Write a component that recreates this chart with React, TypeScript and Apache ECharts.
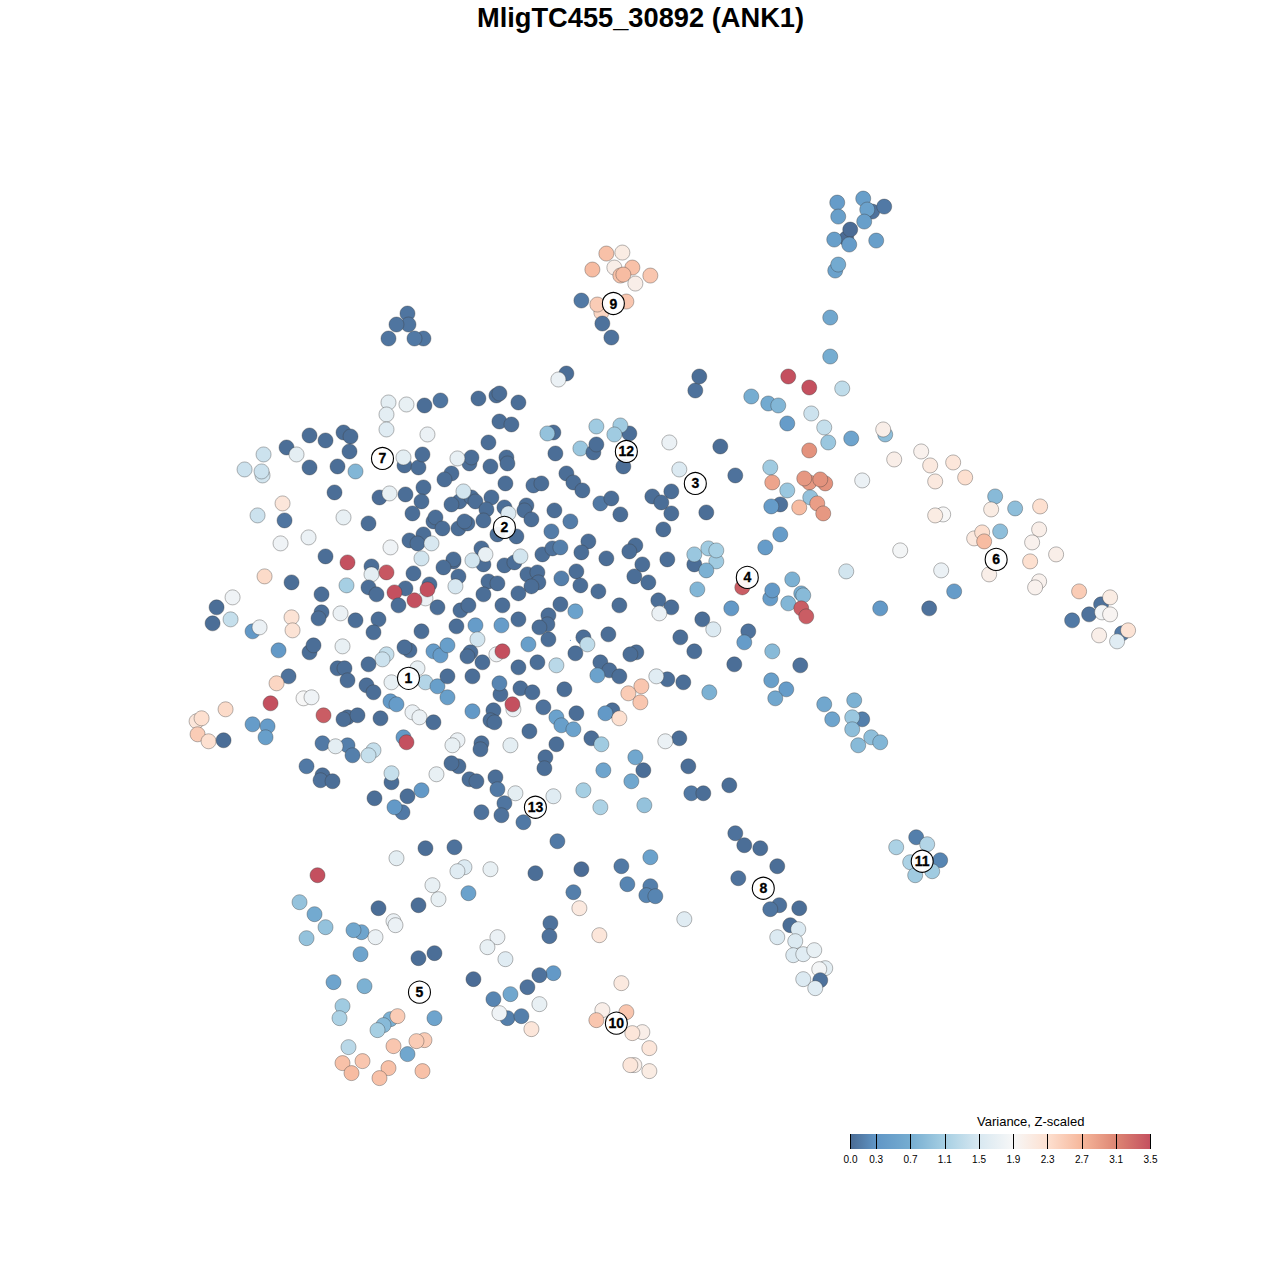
import React, { useEffect, useRef } from "react";
import * as echarts from "echarts";

type P = [number, number, number];

const TITLE = "MligTC455_30892 (ANK1)";
const LEGEND_TITLE = "Variance, Z-scaled";
const legendTicks = [0, 0.3, 0.7, 1.1, 1.5, 1.9, 2.3, 2.7, 3.1, 3.5];
const legendColors = ["#4a6b94", "#6096c6", "#76add1", "#a6cfe3", "#d8e8f1", "#f7f7f7", "#fde0d0", "#f6b79b", "#dd8573", "#c4505f"];

const north: P[] = [
  [388,402,1.65],[406,404,1.7],[424,405,.02],[440,400,.07],[386,414,1.65],[386,429,1.6],[427,434,1.75],[478,398,.02],[496,395,.02],[499,393,.02],[518,402,.02],[499,421,.02],[511,424,.02],[488,442,.02],[566,373,.02],[558,379,1.75],[695,390,.05],[699,376,.02],
];
const westUpper: P[] = [
  [309,435,.02],[325,440,.02],[343,432,.02],[350,436,.02],[286,447,.02],[263,454,1.4],[296,454,1.65],[349,451,.02],[404,465,.02],[418,467,.02],[422,454,.02],[403,457,1.65],[469,463,.02],[471,457,.02],[457,458,1.7],[451,473,.02],[444,479,.02],[244,469,1.4],[262,475,1.45],[261,471,1.4],[309,467,.02],[337,466,.02],[355,471,.8],[334,492,.02],[379,497,.01],[389,493,1.7],[405,494,.02],[423,487,.02],[421,501,.02],[412,513,.02],[282,503,2.2],[257,515,1.4],[284,520,.07],[343,517,1.7],[368,523,.02],[308,537,1.75],[280,543,1.8],[325,556,.02],[347,562,3.5],[264,576,2.35],[291,582,.02],[216,607,.02],[232,597,1.8],[212,623,.02],[230,619,1.35],[252,631,.35],[259,627,1.75],[291,617,2.25],[292,630,2.25],[278,650,.35],
];
const core: P[] = [
  [490,466,.02],[506,457,.02],[507,463,.02],[555,453,.02],[459,501,.02],[451,504,.02],[471,497,.02],[475,501,.02],[463,491,1.45],[491,497,.02],[486,509,.02],[504,507,.02],[508,513,1.55],[526,505,.02],[524,510,.02],[533,485,.05],[541,483,.02],[505,483,.02],[554,510,.02],[531,519,.02],[433,521,.02],[435,517,.02],[442,528,.02],[458,528,.02],[467,523,.02],[464,521,.02],[483,520,.02],[570,521,.12],[551,531,.12],[497,534,.02],[516,536,.02],[409,540,.02],[423,534,.02],[417,543,.02],[431,543,1.5],[421,558,1.45],[390,547,1.8],[483,564,.02],[481,548,.02],[485,554,1.7],[472,560,1.45],[453,561,.01],[453,559,.02],[443,567,.02],[504,565,.02],[514,562,.02],[520,556,1.45],[542,554,.02],[552,548,.05],[560,547,.14],[371,566,.02],[371,574,1.65],[386,572,3.45],[413,573,.02],[458,576,.02],[455,586,1.5],[488,581,.02],[497,583,.02],[527,574,.02],[537,572,.02],[538,582,.02],[531,586,.02],[561,578,.14],[483,594,.02],[518,593,.02],[368,587,.02],[376,594,.02],[405,588,.02],[429,584,.02],[425,598,1.75],[394,592,3.5],[427,589,3.5],[414,600,3.5],[346,585,1.1],[321,594,.02],[398,605,.02],[437,607,.02],[460,610,.02],[468,605,.02],[502,605,.02],[560,604,.02],[340,613,1.75],[321,612,.02],[318,618,.02],[355,620,.02],[378,619,.02],[373,632,.02],[421,631,.02],[456,626,.02],[475,625,.4],[501,625,.4],[518,619,.02],[548,615,.02],[547,624,.02],[539,627,.02],[477,639,1.45],[309,652,.02],[313,645,.02],[342,646,1.7],
];
const south: P[] = [
  [409,650,.02],[404,647,.02],[433,651,.4],[440,655,.4],[447,645,.45],[470,652,.02],[467,656,.02],[496,654,1.8],[502,651,3.5],[528,644,.45],[482,662,.02],[518,667,.02],[537,662,.02],[386,654,1.35],[382,659,1.4],[368,664,.02],[337,668,.02],[344,668,.02],[347,680,.02],[288,676,.05],[276,683,2.4],[366,685,.02],[373,692,.02],[391,682,1.7],[417,668,1.7],[425,682,1.2],[437,686,.45],[447,676,.02],[447,697,.45],[472,676,.02],[500,694,.02],[499,683,.18],[520,688,.02],[532,692,.02],[564,689,.02],[390,701,.35],[396,704,.4],[412,712,1.75],[419,717,1.75],[433,722,.02],[380,718,.02],[347,717,.02],[343,719,.02],[357,715,.02],[472,711,.35],[493,710,.02],[490,720,.02],[494,722,.02],[513,709,1.75],[512,704,3.5],[529,731,.02],[403,737,.35],[406,742,3.5],[457,740,1.75],[452,745,1.7],[481,743,.02],[480,749,.02],[510,745,1.65],[347,745,.14],[352,755,.14],[373,750,1.35],[368,755,1.35],[458,766,.02],[451,763,.02],[391,782,.02],[391,773,1.35],[436,774,1.7],[469,779,.02],[476,781,.02],[495,777,.02],[497,789,.1],[515,793,1.65],[504,803,.07],[374,798,.02],[407,796,.02],[421,790,.35],[402,812,.1],[394,807,.35],[481,812,.05],[501,815,.05],[523,822,.1],[303,698,1.9],[311,697,1.8],[270,703,3.5],[323,715,3.4],[322,743,.1],[335,746,1.65],[306,766,.1],[322,775,.02],[320,780,.05],[332,781,.02],
];
const farWest: P[] = [
  [225,709,2.35],[196,721,2.2],[201,718,2.3],[197,734,2.5],[208,741,2.3],[223,740,.02],[252,724,.4],[267,726,.4],[265,737,.45],
];
const center: P[] = [
  [553,432,.02],[547,433,.95],[596,426,1.05],[629,433,.02],[620,425,1.05],[614,434,1.05],[580,448,1.0],[593,452,.02],[596,444,.02],[669,442,1.75],[720,446,.02],[623,466,.02],[679,469,1.55],[735,475,.05],[566,473,.02],[573,482,.02],[582,490,.02],[652,496,.02],[671,491,.02],[661,502,.02],[671,513,.02],[706,512,.02],[600,503,.1],[611,498,.02],[620,514,.02],[663,529,.02],[588,541,.02],[581,552,.02],[635,545,.02],[629,551,.02],[606,558,.02],[667,559,.02],[642,564,.02],[694,564,.02],[694,554,1.0],[708,548,1.05],[716,561,1.05],[716,550,1.1],[706,570,.75],[576,571,.02],[580,585,.02],[634,576,.02],[648,582,.02],[598,591,.02],[697,589,.8],[658,600,.02],[671,607,.02],[659,613,1.75],[619,605,.02],[575,611,.5],[702,619,.02],[713,629,1.55],[583,637,.02],[587,644,1.3],[548,639,.02],[608,634,.02],[680,637,.02],[575,653,.02],[636,652,.02],[630,654,.02],[694,651,.02],[556,665,1.25],[600,662,.02],[609,670,.02],[619,676,.02],[597,675,.5],[734,664,.02],[667,679,.02],[656,676,1.6],[683,682,.02],[641,686,2.55],[628,693,2.5],[640,702,2.55],[709,692,.75],[543,707,.05],[556,717,.5],[561,725,.45],[576,713,.02],[612,710,.02],[605,713,.35],[619,718,2.3],[573,729,.5],[591,738,.02],[601,744,1.05],[679,738,.02],[665,741,1.75],[556,744,.02],[545,757,.02],[544,768,.02],[635,757,.6],[643,770,.02],[603,770,.55],[631,781,.6],[688,766,.02],[729,785,.02],[691,793,.1],[703,793,.02],[553,796,1.6],[583,790,1.1],[600,807,1.15],[644,805,.95],[557,841,.1],
];
const east: P[] = [
  [830,317,.6],[830,356,.7],[788,376,3.5],[809,387,3.5],[842,388,1.3],[751,396,.7],[768,403,.65],[778,405,.8],[811,413,1.4],[787,423,.4],[824,427,1.35],[828,442,1.0],[851,438,.55],[885,434,.9],[883,429,2.05],[809,450,3.0],[921,451,2.0],[894,459,2.05],[930,465,2.15],[953,462,2.2],[935,481,2.15],[965,477,2.3],[770,467,1.05],[772,482,2.85],[809,482,2.95],[825,483,3.0],[804,478,2.95],[820,479,3.0],[862,480,1.75],[787,490,1.0],[810,497,.95],[799,507,2.65],[817,503,2.9],[823,513,2.95],[780,504,.05],[771,506,.4],[995,496,.85],[1015,508,.9],[991,509,2.1],[1040,506,2.3],[943,514,1.9],[935,515,2.1],[780,534,.4],[765,547,.4],[1000,531,.9],[974,538,2.15],[982,532,2.3],[984,541,2.65],[1039,529,2.05],[1032,542,2.0],[900,550,1.85],[1056,554,2.05],[1030,561,2.3],[941,570,1.75],[989,574,2.05],[846,571,1.45],[792,579,.75],[801,593,.7],[803,595,.85],[788,603,.8],[770,598,.4],[772,590,.35],[742,587,3.4],[731,608,.35],[801,608,3.4],[806,616,3.4],[1039,581,2.0],[1035,587,2.0],[954,591,.4],[880,608,.35],[929,608,.05],[1079,591,2.5],[1101,604,.05],[1110,597,2.1],[1089,614,.05],[1072,620,.1],[1102,612,1.85],[1110,614,1.95],[1099,635,2.05],[1122,633,.1],[1128,630,2.25],[1117,641,1.6],[748,631,.05],[744,642,.4],[772,651,.85],[771,680,.45],[786,689,.4],[775,698,.6],[800,665,.05],[824,704,.6],[854,700,.75],[832,719,.55],[862,719,.14],[852,717,1.0],[852,729,.9],[871,737,.9],[880,742,.8],[858,745,.85],
];
const topRight: P[] = [
  [837,202,.4],[863,198,.45],[872,211,.05],[884,206,.1],[867,209,.5],[838,216,.45],[864,221,.45],[846,238,.01],[850,229,.01],[834,239,.45],[849,244,.4],[876,240,.45],[835,270,.5],[838,264,.65],
];
const island: P[] = [
  [407,313,.07],[408,324,.07],[396,324,.07],[388,338,.07],[423,338,.07],[414,338,.1],
];
const cluster9: P[] = [
  [606,253,2.6],[622,252,2.1],[614,267,2.05],[592,269,2.65],[632,267,2.6],[620,275,2.6],[623,274,2.65],[650,275,2.55],[635,283,2.05],[581,300,.1],[601,312,2.4],[597,304,2.5],[626,301,2.55],[602,323,.05],[611,337,.05],
];
const southWest: P[] = [
  [425,848,.02],[454,847,.05],[396,858,1.65],[464,867,1.55],[457,871,1.6],[490,869,1.7],[535,873,.02],[581,869,.01],[317,875,3.5],[432,885,1.7],[438,899,1.7],[468,893,.5],[573,892,.14],[299,902,.95],[314,914,.65],[378,908,.02],[418,905,.02],[579,908,2.15],[325,927,.95],[306,938,.95],[393,921,1.75],[395,925,1.75],[361,932,.55],[353,930,.6],[375,937,1.75],[550,923,.05],[549,936,.05],[360,954,.55],[418,958,.02],[434,953,.02],[497,937,1.75],[487,947,1.7],[505,959,1.6],[553,973,.35],[539,975,.05],[473,979,.01],[333,982,.55],[364,986,.75],[527,987,.05],[510,994,.6],[493,999,.18],[342,1006,1.05],[339,1018,1.15],[539,1004,1.7],[507,1018,.14],[499,1013,1.8],[521,1016,.14],[434,1018,.55],[531,1029,2.2],[390,1019,.75],[383,1025,.85],[397,1016,2.5],[377,1030,1.1],[348,1047,1.25],[393,1046,2.55],[424,1040,2.5],[416,1041,2.5],[407,1054,.6],[342,1063,2.6],[362,1061,2.55],[351,1073,2.65],[388,1068,2.6],[379,1078,2.6],[422,1071,2.6],
];
const southEast: P[] = [
  [621,866,.1],[650,857,.5],[627,884,.18],[650,886,.14],[646,895,.18],[655,896,.18],[684,919,1.6],[599,935,2.2],[621,983,2.15],[602,1010,2.05],[626,1012,2.55],[596,1020,2.55],[642,1032,2.05],[632,1033,2.2],[649,1048,2.2],[634,1065,2.05],[630,1065,2.2],[649,1071,2.1],
  [735,833,.05],[744,845,.02],[760,848,.02],[777,866,.02],[738,878,.05],[779,905,.05],[770,909,.07],[799,908,.02],[790,925,.02],[798,929,1.55],[777,937,1.55],[795,941,1.55],[793,955,1.55],[803,954,1.6],[814,950,1.7],[825,968,1.65],[819,969,1.85],[820,980,.05],[803,979,1.55],[815,988,1.6],
  [916,837,.14],[927,844,1.2],[896,847,1.15],[910,862,1.15],[940,860,.18],[932,871,1.05],[915,875,1.05],
];
const strayMarks: P[] = [[570,640,.3]];

const clusterIds = ["1","2","3","4","5","6","7","8","9","10","11","12","13"];
const clusterX = [408,504,695,747,419,996,382,763,613,616,922,626,535];
const clusterY = [678,527,483,577,992,559,458,888,303,1023,861,451,807];

const points: P[] = [...north, ...westUpper, ...core, ...south, ...farWest, ...center, ...east, ...topRight, ...island, ...cluster9, ...southWest, ...southEast];

function colorFor(v: number): string {
  for (let i = 1; i < legendTicks.length; i++) {
    if (v <= legendTicks[i]) {
      const t = (v - legendTicks[i - 1]) / (legendTicks[i] - legendTicks[i - 1]);
      return echarts.color.lerp(t, [legendColors[i - 1], legendColors[i]]) as string;
    }
  }
  return legendColors[legendColors.length - 1];
}

const FONT = "'Liberation Sans', Arial, sans-serif";

export default function App() {
  const ref = useRef<HTMLDivElement>(null);
  useEffect(() => {
    document.body.style.margin = "0";
    const chart = echarts.init(ref.current!, undefined, { renderer: "svg" });
    const max = legendTicks[legendTicks.length - 1];
    chart.setOption({
      animation: false,
      backgroundColor: "#ffffff",
      title: [
        { text: TITLE, left: 635.5, top: -1, textAlign: "center", textStyle: { fontFamily: FONT, fontWeight: "bold", fontSize: 27.25, color: "#000" } },
        { text: LEGEND_TITLE, left: 972, top: 1110, textStyle: { fontFamily: FONT, fontWeight: "normal", fontSize: 13, color: "#000" } },
      ],
      grid: [
        { left: 0.7, top: 0.7, width: 1280, height: 1280, show: false },
        {
          left: 850.5, top: 1134, width: 300, height: 15, show: true, borderWidth: 0,
          backgroundColor: new echarts.graphic.LinearGradient(0, 0, 1, 0,
            legendTicks.map((t, i) => ({ offset: t / max, color: legendColors[i] }))),
        },
      ],
      xAxis: [
        { gridIndex: 0, type: "value", min: 0, max: 1280, show: false },
        {
          gridIndex: 1, type: "value", min: 0, max, position: "bottom",
          splitLine: { show: false }, axisLine: { show: false },
          axisTick: { show: true, inside: true, length: 15, customValues: legendTicks, lineStyle: { color: "#000", width: 1 } },
          axisLabel: { show: true, customValues: legendTicks, margin: 5, fontSize: 10, color: "#000", fontFamily: FONT, formatter: (v: number) => v.toFixed(1), showMinLabel: true, showMaxLabel: true },
        },
      ],
      yAxis: [
        { gridIndex: 0, type: "value", min: 0, max: 1280, inverse: true, show: false },
        { gridIndex: 1, type: "value", min: 0, max: 1, show: false },
      ],
      series: [
        {
          type: "scatter", xAxisIndex: 0, yAxisIndex: 0, symbolSize: 15, data: points, z: 2,
          itemStyle: { color: (p: any) => colorFor(p.value[2]), borderColor: "rgba(60,60,60,0.38)", borderWidth: 1, opacity: 1 },
          emphasis: { disabled: true }, silent: true,
        },
        {
          type: "scatter", xAxisIndex: 0, yAxisIndex: 0, symbolSize: 1, data: strayMarks, z: 2,
          itemStyle: { color: "#2f6fb0" }, silent: true,
        },
        {
          type: "scatter", xAxisIndex: 0, yAxisIndex: 0, symbolSize: 22, z: 3, silent: true,
          data: clusterIds.map((id, i) => ({ value: [clusterX[i], clusterY[i]], name: id })),
          itemStyle: { color: "rgba(255,255,255,0.93)", borderColor: "#000", borderWidth: 1.1, opacity: 1 },
          label: { show: true, position: "inside", formatter: "{b}", color: "#000", fontFamily: FONT, fontWeight: "bold", fontSize: 14, textBorderColor: "#000", textBorderWidth: 0.3 },
        },
      ],
    });
    return () => chart.dispose();
  }, []);
  return <div ref={ref} style={{ position: "absolute", left: 0, top: 0, width: 1280, height: 1280 }} />;
}
